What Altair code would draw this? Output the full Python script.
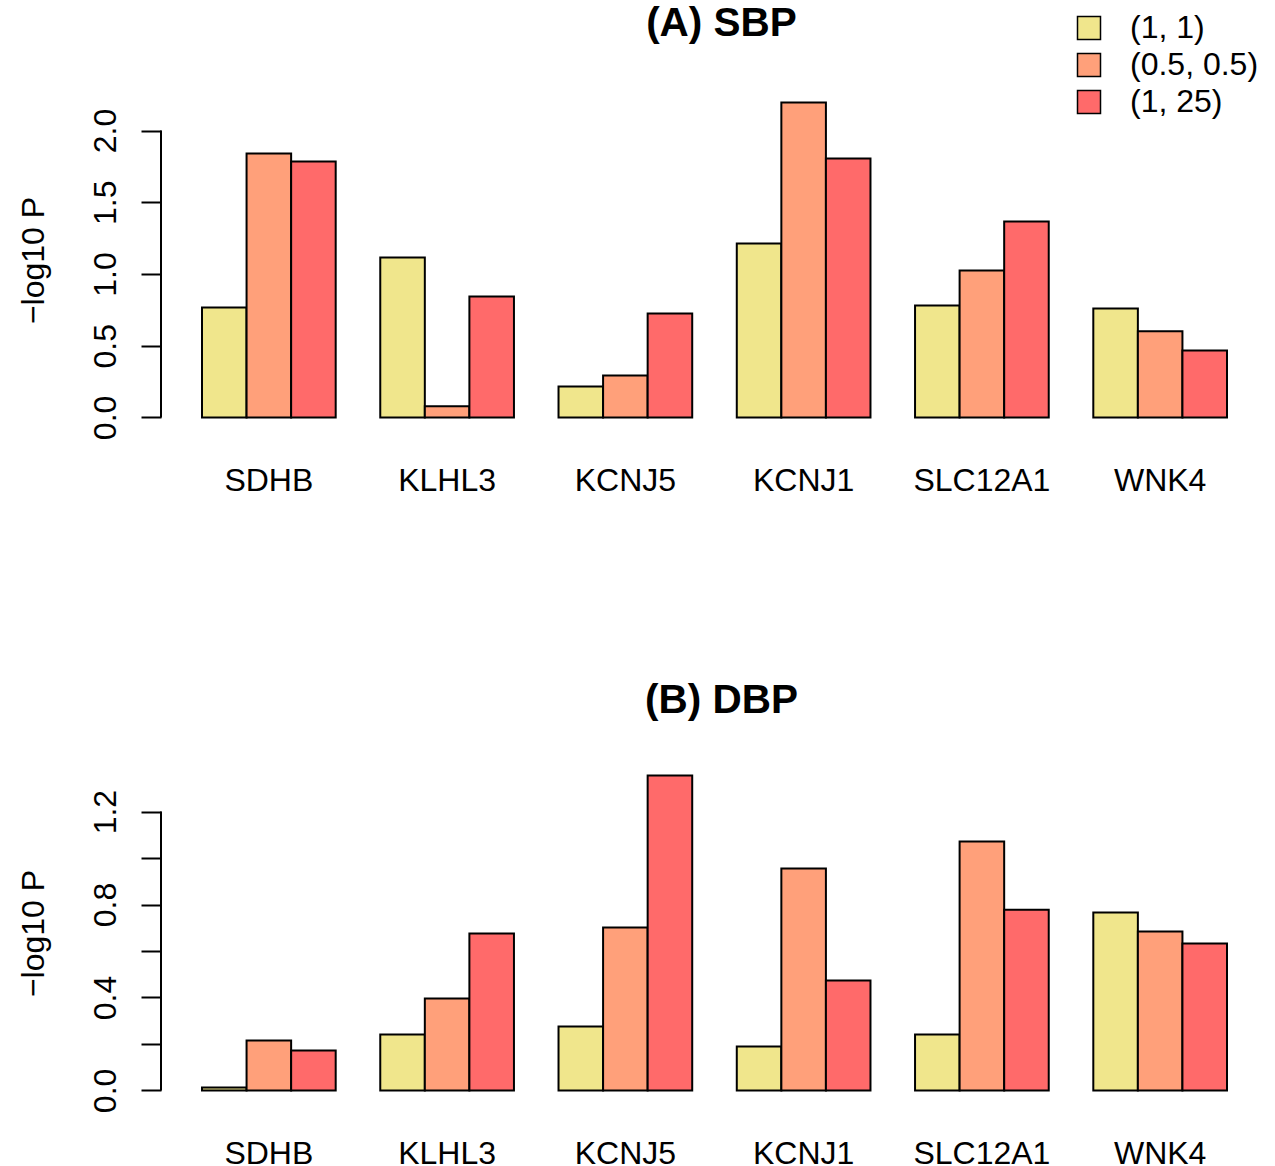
import altair as alt
import pandas as pd

genes = ["SDHB", "KLHL3", "KCNJ5", "KCNJ1", "SLC12A1", "WNK4"]
series = ["(1, 1)", "(0.5, 0.5)", "(1, 25)"]
colors = ["#F0E68C", "#FFA07A", "#FF6A6A"]

sbp_1_1 = [0.767, 1.115, 0.216, 1.213, 0.780, 0.760]
sbp_05_05 = [1.840, 0.077, 0.293, 2.195, 1.024, 0.600]
sbp_1_25 = [1.784, 0.843, 0.725, 1.805, 1.366, 0.467]

dbp_1_1 = [0.013, 0.241, 0.275, 0.189, 0.241, 0.766]
dbp_05_05 = [0.215, 0.396, 0.701, 0.955, 1.071, 0.684]
dbp_1_25 = [0.172, 0.675, 1.355, 0.473, 0.778, 0.632]

sbp_ticks = [0.0, 0.5, 1.0, 1.5, 2.0]
dbp_ticks = [0.0, 0.2, 0.4, 0.6, 0.8, 1.0, 1.2]
dbp_labels = [0.0, 0.4, 0.8, 1.2]

FONT = "Liberation Sans"


def make_df(a, b, c):
    rows = []
    for vals, s in zip([a, b, c], series):
        for g, v in zip(genes, vals):
            rows.append({"gene": g, "series": s, "value": v})
    return pd.DataFrame(rows)


def panel(df, title, ticks, label_values, show_legend, title_offset):
    vmax = max(df["value"])
    ext = 0.04 * vmax
    domain = [-ext, vmax + ext]
    legend = None
    if show_legend:
        legend = alt.Legend(
            title=None, orient="none", legendX=912, legendY=-78,
            symbolType="square", symbolSize=529, symbolStrokeColor="black",
            symbolStrokeWidth=1.5, symbolOpacity=1, labelFontSize=32, labelFont=FONT,
            labelColor="black", labelOffset=25, rowPadding=5, padding=0,
        )
    label_expr = ("indexof(" + str(label_values) + ", datum.value) >= 0 ? "
                  "format(datum.value, '.1f') : ''")
    bars = alt.Chart(df).mark_bar(stroke="black", strokeWidth=2, opacity=1).encode(
        x=alt.X("gene:N", sort=genes,
                scale=alt.Scale(paddingInner=0.25, paddingOuter=0.23),
                axis=alt.Axis(title=None, domain=False, ticks=False, tickSize=0,
                              labelAngle=0, labelFontSize=32, labelFont=FONT,
                              labelColor="black", labelBaseline="alphabetic",
                              labelPadding=60)),
        xOffset=alt.XOffset("series:N", sort=series,
                            scale=alt.Scale(paddingInner=0, paddingOuter=0)),
        y=alt.Y("value:Q",
                scale=alt.Scale(domain=domain, nice=False, zero=False),
                axis=alt.Axis(values=ticks, labelExpr=label_expr, title="−log10 P",
                              domain=False, grid=False, tickSize=20, tickWidth=2,
                              tickColor="black", labelAngle=270, labelAlign="center",
                              labelBaseline="alphabetic", labelPadding=26,
                              labelFontSize=32, labelFont=FONT, labelColor="black",
                              titleFontSize=32, titleFont=FONT, titleFontWeight="normal",
                              titleColor="black", titlePadding=39)),
        y2=alt.datum(0),
        color=alt.Color("series:N", sort=series,
                        scale=alt.Scale(domain=series, range=colors), legend=legend),
    )
    axis_line = alt.Chart(pd.DataFrame({"k": [0]})).mark_rule(
        color="black", strokeWidth=2
    ).encode(
        x=alt.value(0),
        y=alt.datum(ticks[0]),
        y2=alt.datum(ticks[-1]),
    )
    return alt.layer(bars, axis_line).properties(
        width=1107, height=340,
        title=alt.TitleParams(title, fontSize=40.5, font=FONT, fontWeight="bold",
                              color="black", anchor="middle", baseline="alphabetic",
                              offset=title_offset, dx=7),
    )


top = panel(make_df(sbp_1_1, sbp_05_05, sbp_1_25), "(A) SBP", sbp_ticks, sbp_ticks, True, 13.5)
bottom = panel(make_df(dbp_1_1, dbp_05_05, dbp_1_25), "(B) DBP", dbp_ticks, dbp_labels, False, 9.5)

chart = alt.vconcat(top, bottom, spacing=333, bounds="flush").properties(
    padding={"left": 16, "top": 4, "right": 5, "bottom": 0},
    background="white",
).configure_view(strokeWidth=0)

chart.save("out.html", embed_options={"renderer": "svg", "actions": False})
